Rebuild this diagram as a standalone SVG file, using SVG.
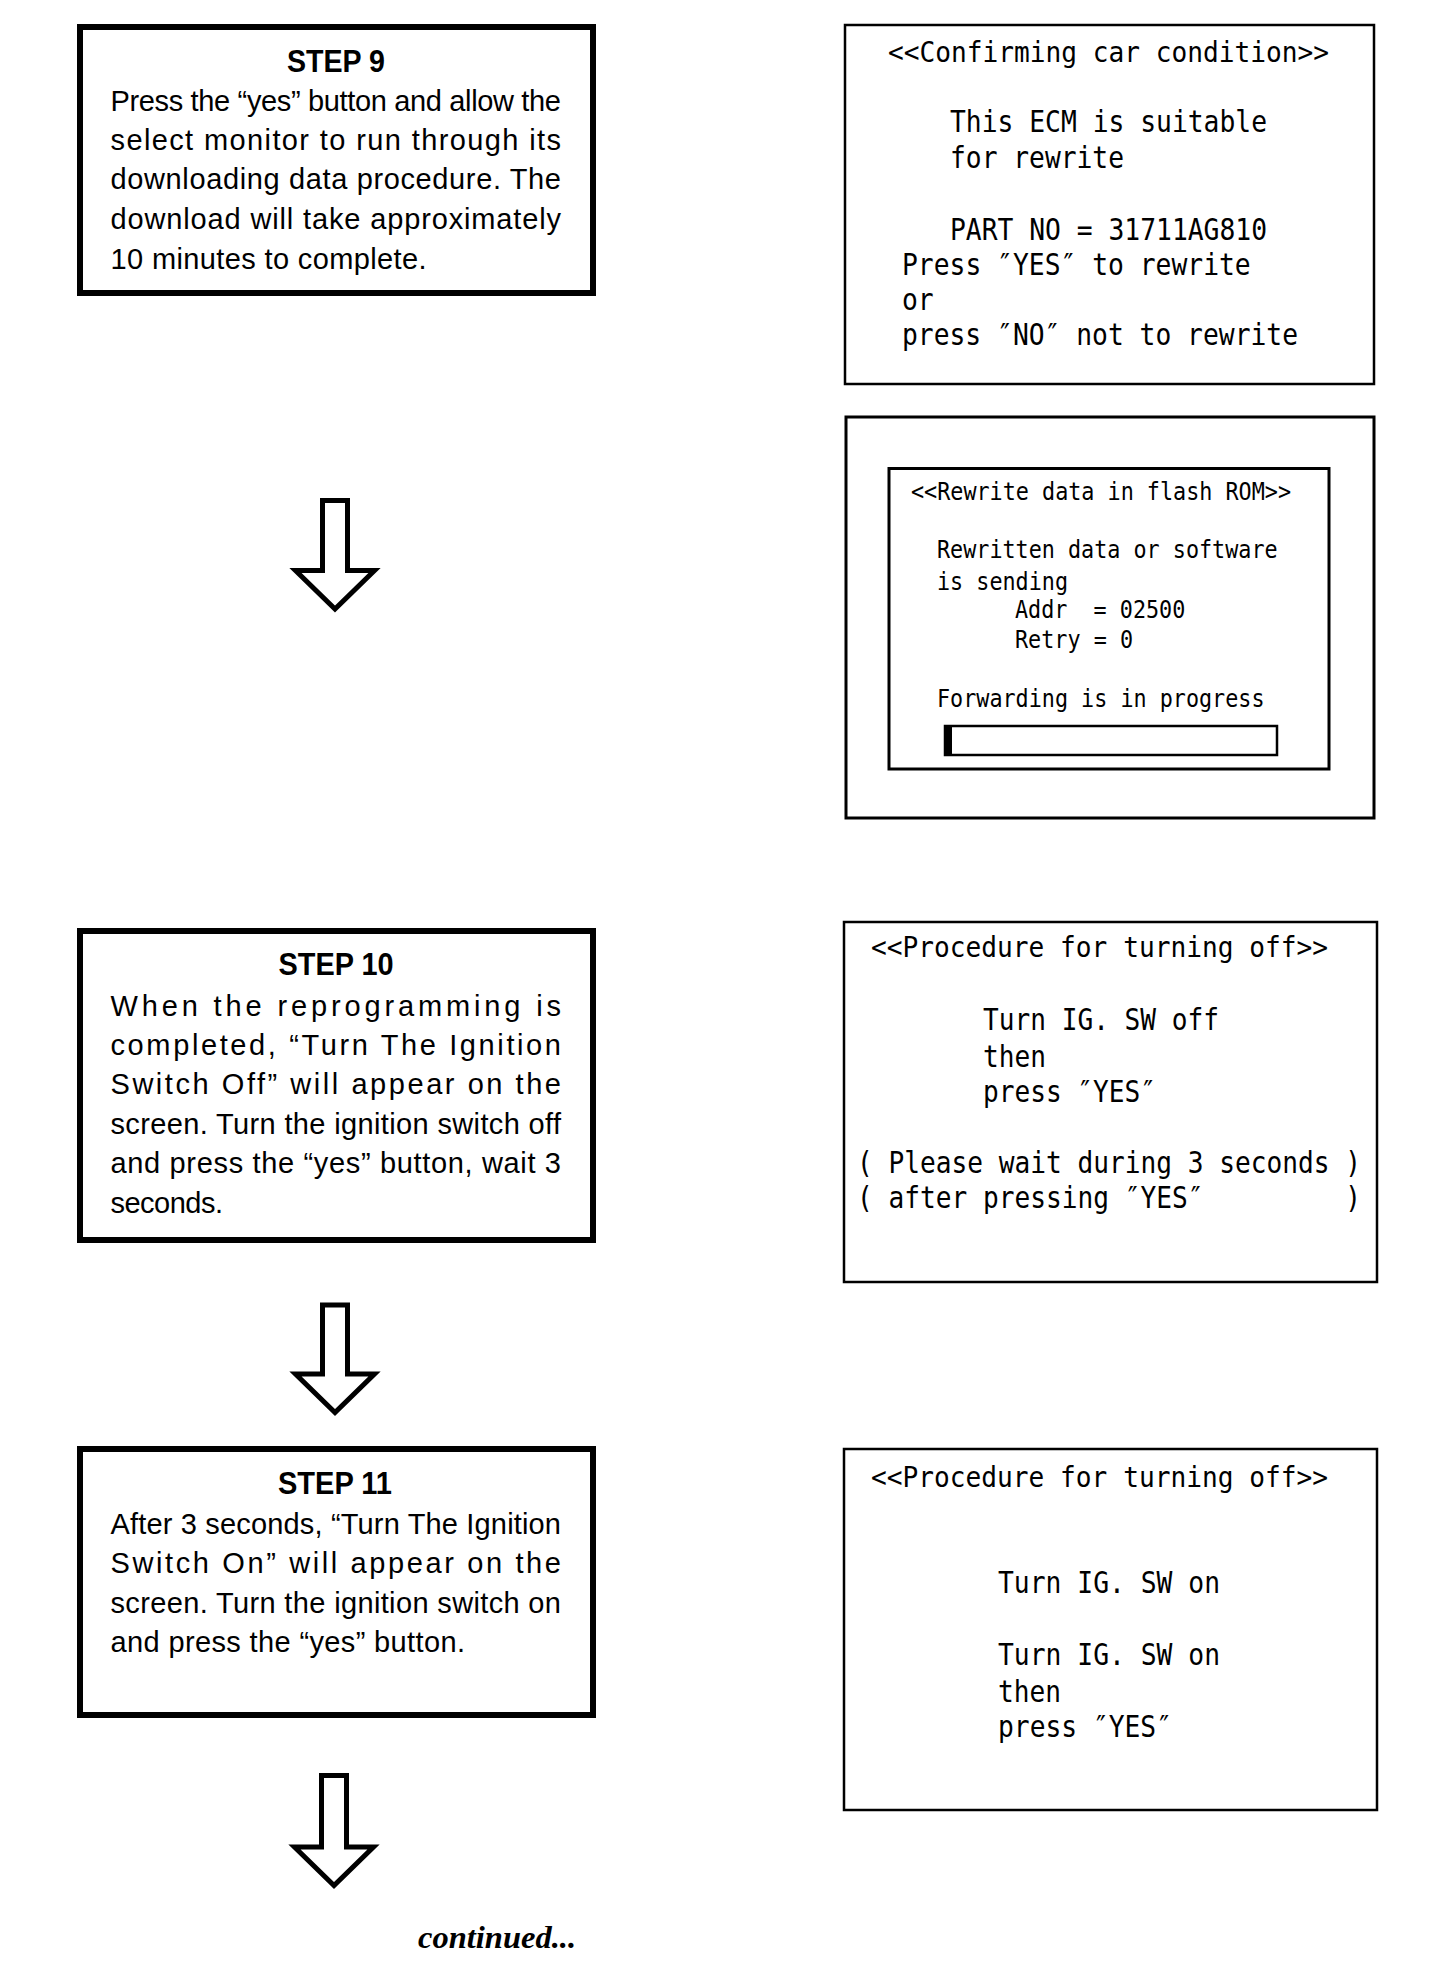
<svg xmlns="http://www.w3.org/2000/svg" width="1456" height="1968" viewBox="0 0 1456 1968">
<style>
.stepbox{fill:#fff;stroke:#000;stroke-width:6}
.scr{fill:#fff;stroke:#000;stroke-width:2.5}
.title{font-family:"Liberation Sans",Arial,sans-serif;font-weight:bold;font-size:32px;fill:#000}
.body{font-family:"Liberation Sans",Arial,sans-serif;font-size:29px;fill:#000}
.mono{font-family:"DejaVu Sans Mono","Liberation Mono",monospace;fill:#000}
.m29{font-size:28px}
.m34{font-size:30px}
.m25{font-size:24px}
.arrow{fill:#fff;stroke:#000;stroke-width:5;stroke-linejoin:miter}
.cont{font-family:"Liberation Serif","Times New Roman",serif;font-weight:bold;font-style:italic;font-size:32px;fill:#000}
</style>
<rect width="1456" height="1968" fill="#fff"/>

<g id="step9">
<rect class="stepbox" x="80" y="27" width="513" height="266"/>
<text class="title" x="287" y="72" textLength="98" lengthAdjust="spacingAndGlyphs">STEP 9</text>
<text class="body" x="110.5" y="111" textLength="450.5" lengthAdjust="spacing">Press the “yes” button and allow the</text>
<text class="body" x="110.5" y="150" textLength="450.5" lengthAdjust="spacing">select monitor to run through its</text>
<text class="body" x="110.5" y="189" textLength="450.5" lengthAdjust="spacing">downloading data procedure. The</text>
<text class="body" x="110.5" y="229" textLength="450.5" lengthAdjust="spacing">download will take approximately</text>
<text class="body" x="110.5" y="268.5" textLength="316" lengthAdjust="spacing">10 minutes to complete.</text>
</g>

<g id="step10">
<rect class="stepbox" x="80" y="931" width="513" height="309"/>
<text class="title" x="278.5" y="975" textLength="115" lengthAdjust="spacingAndGlyphs">STEP 10</text>
<text class="body" x="110.5" y="1015.7" textLength="450.5" lengthAdjust="spacing">When the reprogramming is</text>
<text class="body" x="110.5" y="1055" textLength="450.5" lengthAdjust="spacing">completed, “Turn The Ignition</text>
<text class="body" x="110.5" y="1094" textLength="450.5" lengthAdjust="spacing">Switch Off” will appear on the</text>
<text class="body" x="110.5" y="1134" textLength="450.5" lengthAdjust="spacing">screen. Turn the ignition switch off</text>
<text class="body" x="110.5" y="1173.3" textLength="450.5" lengthAdjust="spacing">and press the “yes” button, wait 3</text>
<text class="body" x="110.5" y="1212.7" textLength="112.5" lengthAdjust="spacing">seconds.</text>
</g>

<g id="step11">
<rect class="stepbox" x="80" y="1449" width="513" height="266"/>
<text class="title" x="278" y="1494" textLength="114" lengthAdjust="spacingAndGlyphs">STEP 11</text>
<text class="body" x="110.5" y="1534" textLength="450.5" lengthAdjust="spacing">After 3 seconds, “Turn The Ignition</text>
<text class="body" x="110.5" y="1573" textLength="450.5" lengthAdjust="spacing">Switch On” will appear on the</text>
<text class="body" x="110.5" y="1612.5" textLength="450.5" lengthAdjust="spacing">screen. Turn the ignition switch on</text>
<text class="body" x="110.5" y="1652" textLength="354.5" lengthAdjust="spacing">and press the “yes” button.</text>
</g>

<g id="screen-confirm">
<rect class="scr" x="845" y="25" width="529" height="359"/>
<text class="mono m29" x="888" y="61.5" textLength="441" lengthAdjust="spacingAndGlyphs">&lt;&lt;Confirming car condition&gt;&gt;</text>
<text class="mono m34" x="950" y="131.5" textLength="317" lengthAdjust="spacingAndGlyphs">This ECM is suitable</text>
<text class="mono m34" x="950" y="168" textLength="174" lengthAdjust="spacingAndGlyphs">for rewrite</text>
<text class="mono m34" x="950" y="240" textLength="317" lengthAdjust="spacingAndGlyphs">PART NO = 31711AG810</text>
<text class="mono m34" x="902" y="275" textLength="348.7" lengthAdjust="spacingAndGlyphs">Press ″YES″ to rewrite</text>
<text class="mono m34" x="902" y="310" textLength="31.7" lengthAdjust="spacingAndGlyphs">or</text>
<text class="mono m34" x="902" y="345" textLength="396" lengthAdjust="spacingAndGlyphs">press ″NO″ not to rewrite</text>
</g>

<g id="screen-rewrite">
<rect class="scr" x="846" y="417" width="528" height="401" style="stroke-width:3"/>
<rect class="scr" x="889" y="468.5" width="440" height="300.5" style="stroke-width:3"/>
<text class="mono m25" x="911" y="500" textLength="380" lengthAdjust="spacingAndGlyphs">&lt;&lt;Rewrite data in flash ROM&gt;&gt;</text>
<text class="mono m25" x="937" y="558" textLength="340.6" lengthAdjust="spacingAndGlyphs">Rewritten data or software</text>
<text class="mono m25" x="937" y="590" textLength="131" lengthAdjust="spacingAndGlyphs">is sending</text>
<text class="mono m25" x="1015" y="618" textLength="170.3" lengthAdjust="spacingAndGlyphs" xml:space="preserve">Addr  = 02500</text>
<text class="mono m25" x="1015" y="648" textLength="118" lengthAdjust="spacingAndGlyphs">Retry = 0</text>
<text class="mono m25" x="937" y="707" textLength="327.5" lengthAdjust="spacingAndGlyphs">Forwarding is in progress</text>
<rect class="scr" x="945" y="726" width="332" height="29"/>
<rect x="945" y="726" width="7" height="29" fill="#000"/>
</g>

<g id="screen-off-1">
<rect class="scr" x="844" y="922" width="533" height="360"/>
<text class="mono m29" x="871" y="957" textLength="457" lengthAdjust="spacingAndGlyphs">&lt;&lt;Procedure for turning off&gt;&gt;</text>
<text class="mono m34" x="983" y="1030" textLength="236" lengthAdjust="spacingAndGlyphs">Turn IG. SW off</text>
<text class="mono m34" x="983" y="1067" textLength="63" lengthAdjust="spacingAndGlyphs">then</text>
<text class="mono m34" x="983" y="1102" textLength="173" lengthAdjust="spacingAndGlyphs">press ″YES″</text>
<text class="mono m34" x="857" y="1173" textLength="504" lengthAdjust="spacingAndGlyphs">( Please wait during 3 seconds )</text>
<text class="mono m34" x="857" y="1208" textLength="504" lengthAdjust="spacingAndGlyphs" xml:space="preserve">( after pressing ″YES″         )</text>
</g>

<g id="screen-off-2">
<rect class="scr" x="844" y="1449" width="533" height="361"/>
<text class="mono m29" x="871" y="1487" textLength="457" lengthAdjust="spacingAndGlyphs">&lt;&lt;Procedure for turning off&gt;&gt;</text>
<text class="mono m34" x="998" y="1593" textLength="222" lengthAdjust="spacingAndGlyphs">Turn IG. SW on</text>
<text class="mono m34" x="998" y="1665" textLength="222" lengthAdjust="spacingAndGlyphs">Turn IG. SW on</text>
<text class="mono m34" x="998" y="1702" textLength="63" lengthAdjust="spacingAndGlyphs">then</text>
<text class="mono m34" x="998" y="1737" textLength="174" lengthAdjust="spacingAndGlyphs">press ″YES″</text>
</g>

<g id="connectors">
<path class="arrow" d="M322.5,500.5 H347.5 V570.5 H374.5 L335,609 L295.5,570.5 H322.5 Z"/>
<path class="arrow" d="M322.5,1305 H347.5 V1374 H374.5 L335,1412.5 L295.5,1374 H322.5 Z"/>
<path class="arrow" d="M321.5,1775.5 H346.5 V1847 H373.5 L334,1885.5 L294.5,1847 H321.5 Z"/>
</g>

<g id="footer">
<text class="cont" x="418" y="1948" textLength="158" lengthAdjust="spacingAndGlyphs">continued...</text>
</g>
</svg>
